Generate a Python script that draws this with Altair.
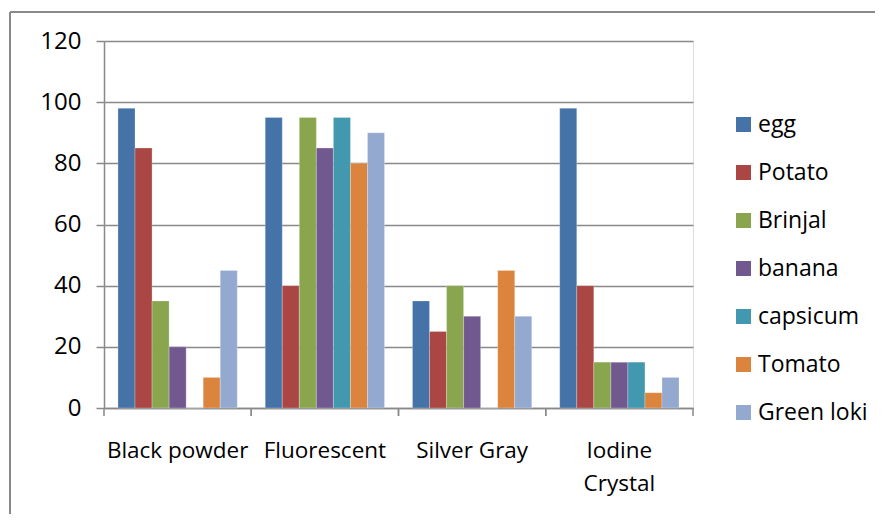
import altair as alt
import pandas as pd

categories = ["Black powder", "Fluorescent", "Silver Gray", "Iodine Crystal"]
series = ["egg", "Potato", "Brinjal", "banana", "capsicum", "Tomato", "Green loki"]
colors = ["#4572A7", "#AA4643", "#89A54E", "#71588F", "#4198AF", "#DB843D", "#93A9CF"]

egg = [98, 95, 35, 98]
potato = [85, 40, 25, 40]
brinjal = [35, 95, 40, 15]
banana = [20, 85, 30, 15]
capsicum = [0, 95, 0, 15]
tomato = [10, 80, 45, 5]
green_loki = [45, 90, 30, 10]

values = [egg, potato, brinjal, banana, capsicum, tomato, green_loki]
rows = []
for s, vals in zip(series, values):
    for c, v in zip(categories, vals):
        rows.append({"category": c, "series": s, "value": v})
df = pd.DataFrame(rows)
cat_df = pd.DataFrame({"category": categories})

W, H = 589, 367
FONT = "Open Sans"
FS = 22.5
GRAY = "#898989"

x_enc = alt.X(
    "category:N", sort=categories,
    scale=alt.Scale(paddingInner=0, paddingOuter=0),
    axis=alt.Axis(
        title=None, labelAngle=0, ticks=False, domain=True, domainColor=GRAY,
        domainWidth=1.5, labelFont=FONT, labelFontSize=FS, labelColor="#000000",
        labelPadding=31, labelLineHeight=33,
        labelExpr="datum.label == 'Iodine Crystal' ? ['Iodine', 'Crystal'] : datum.label",
    ),
)

bars = alt.Chart(df).mark_bar(stroke="white", strokeWidth=0.5, strokeOpacity=0.5).encode(
    x=x_enc,
    xOffset=alt.XOffset("series:N", sort=series,
                        scale=alt.Scale(paddingInner=0, paddingOuter=0.82)),
    y=alt.Y(
        "value:Q",
        scale=alt.Scale(domain=[0, 120], nice=False),
        axis=alt.Axis(
            title=None, values=[0, 20, 40, 60, 80, 100, 120], grid=True,
            gridColor=GRAY, gridWidth=1.5, domainColor=GRAY, domainWidth=1.5,
            tickColor=GRAY, tickWidth=1.5, tickSize=8, labelPadding=15,
            labelFont=FONT, labelFontSize=24, labelColor="#000000",
        ),
    ),
    color=alt.Color(
        "series:N", sort=series,
        scale=alt.Scale(domain=series, range=colors),
        legend=alt.Legend(
            title=None, orient="none", legendX=628, legendY=72,
            symbolType="square", symbolSize=225, symbolStrokeWidth=0,
            labelFont=FONT, labelFontSize=23, labelColor="#000000",
            labelOffset=3, rowPadding=24,
        ),
    ),
)

ticks0 = alt.Chart(cat_df).mark_rule(color=GRAY, strokeWidth=1.5).encode(
    x=alt.X("category:N", sort=categories, bandPosition=0),
    y=alt.value(H), y2=alt.value(H + 8),
)
ticks1 = alt.Chart(cat_df).mark_rule(color=GRAY, strokeWidth=1.5).encode(
    x=alt.X("category:N", sort=categories, bandPosition=1),
    y=alt.value(H), y2=alt.value(H + 8),
)

frame_top = alt.Chart(cat_df).mark_rule(color=GRAY, strokeWidth=2).encode(
    x=alt.value(-94), x2=alt.value(800), y=alt.value(-29)
)
frame_left = alt.Chart(cat_df).mark_rule(color=GRAY, strokeWidth=2).encode(
    x=alt.value(-94), y=alt.value(-29), y2=alt.value(520)
)

chart = alt.layer(frame_top, frame_left, bars, ticks0, ticks1).properties(
    width=W, height=H,
    autosize=alt.AutoSizeParams(type="none"),
    padding={"left": 96, "top": 33, "right": 182, "bottom": 106},
).configure_view(stroke=None).configure(background="white")

chart.save("out.html", embed_options={"renderer": "svg", "actions": False})
